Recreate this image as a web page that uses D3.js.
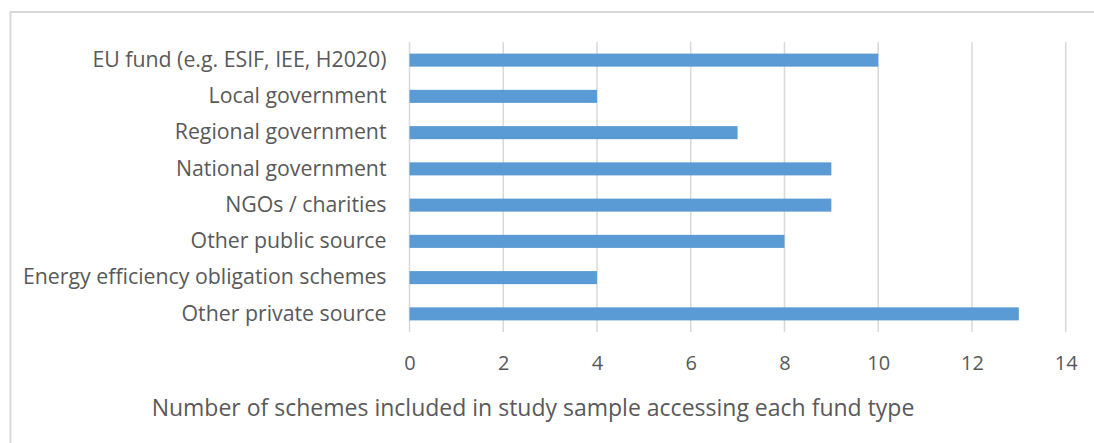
<!DOCTYPE html>
<html>
<head>
<meta charset="utf-8">
<script src="https://cdn.jsdelivr.net/npm/d3@7"></script>
<style>
  body { margin: 0; background: #fff; }
  svg text { font-family: "Open Sans", sans-serif; fill: #595959; }
</style>
</head>
<body>
<svg id="chart" width="1094" height="443"></svg>
<script>
// data
var categories = [
  "EU fund (e.g. ESIF, IEE, H2020)",
  "Local government",
  "Regional government",
  "National government",
  "NGOs / charities",
  "Other public source",
  "Energy efficiency obligation schemes",
  "Other private source"
];
var schemeCounts = [10, 4, 7, 9, 9, 8, 4, 13];
var xTicks = [0, 2, 4, 6, 8, 10, 12, 14];
var xTitle = "Number of schemes included in study sample accessing each fund type";

function drawChart() {
  var svg = d3.select("#chart");

  // outer chart border (runs off the right / bottom edge)
  svg.append("rect")
    .attr("x", 10.5).attr("y", 12)
    .attr("width", 1100).attr("height", 450)
    .attr("fill", "none")
    .attr("stroke", "#d9d9d9")
    .attr("stroke-width", 2);

  var xScale = d3.scaleLinear()
    .domain([0, 14])
    .range([409.5, 1065.7]);

  var yScale = d3.scaleBand()
    .domain(categories)
    .range([42, 332])
    .paddingInner(0.64)
    .paddingOuter(0.32);

  // gridlines
  svg.append("g")
    .selectAll("line")
    .data(xTicks)
    .enter()
    .append("line")
    .attr("x1", function(d) { return xScale(d); })
    .attr("x2", function(d) { return xScale(d); })
    .attr("y1", 42)
    .attr("y2", 332)
    .attr("stroke", "#d9d9d9")
    .attr("stroke-width", 1.5);

  // bars
  svg.append("g")
    .selectAll("rect")
    .data(schemeCounts)
    .enter()
    .append("rect")
    .attr("x", xScale(0))
    .attr("y", function(d, i) { return yScale(categories[i]); })
    .attr("width", function(d) { return xScale(d) - xScale(0); })
    .attr("height", yScale.bandwidth())
    .attr("fill", "#5b9bd5");

  // x axis tick labels
  var xAxis = d3.axisBottom(xScale)
    .tickValues(xTicks)
    .tickSize(0)
    .tickPadding(0);

  var gx = svg.append("g")
    .attr("transform", "translate(0,356)")
    .call(xAxis);
  gx.select(".domain").remove();
  gx.selectAll("text")
    .attr("dy", "0.71em")
    .style("font-size", "20px")
    .style("font-family", "'Open Sans', sans-serif")
    .attr("fill", "#595959");

  // y axis category labels
  var yAxis = d3.axisLeft(yScale)
    .tickSize(0)
    .tickPadding(23);

  var gy = svg.append("g")
    .attr("transform", "translate(" + xScale(0) + ",0)")
    .call(yAxis);
  gy.select(".domain").remove();
  gy.selectAll("text")
    .style("font-size", "21.3px")
    .style("font-family", "'Open Sans', sans-serif")
    .attr("fill", "#595959");

  // axis title
  svg.append("text")
    .attr("x", 533)
    .attr("y", 416)
    .attr("text-anchor", "middle")
    .style("font-size", "23px")
    .text(xTitle);
}

drawChart();
</script>
</body>
</html>
